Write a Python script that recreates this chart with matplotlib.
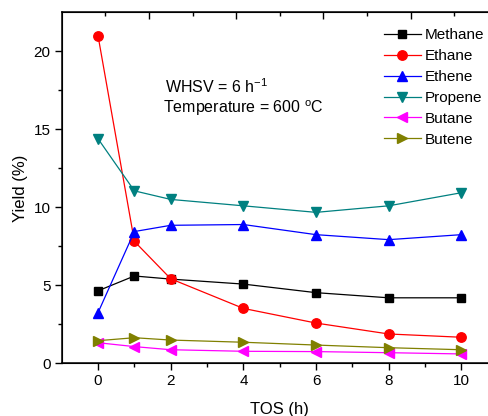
import matplotlib
matplotlib.use("Agg")
import matplotlib.pyplot as plt

plt.rcParams["font.family"] = ["Liberation Sans", "DejaVu Sans"]

# ------------------------------------------------------------
# Data
# ------------------------------------------------------------
tos = [0, 1, 2, 4, 6, 8, 10]

methane = [4.65, 5.6, 5.4, 5.08, 4.53, 4.2, 4.2]
ethane = [21.0, 7.82, 5.42, 3.52, 2.58, 1.88, 1.67]
ethene = [3.25, 8.45, 8.85, 8.9, 8.25, 7.93, 8.25]
propene = [14.4, 11.06, 10.51, 10.1, 9.68, 10.1, 10.94]
butane = [1.32, 1.07, 0.87, 0.77, 0.75, 0.68, 0.6]
butene = [1.45, 1.64, 1.49, 1.35, 1.17, 1.0, 0.87]

series = [
    ("Methane", methane, "black", "s"),
    ("Ethane", ethane, "red", "o"),
    ("Ethene", ethene, "blue", "^"),
    ("Propene", propene, "#008080", "v"),
    ("Butane", butane, "#ff00ff", "<"),
    ("Butene", butene, "#808000", ">"),
]

# ------------------------------------------------------------
# Plot
# ------------------------------------------------------------
fig = plt.figure(figsize=(4.89, 4.16), dpi=100)
ax = fig.add_axes([0.1262, 0.1267, 0.8916, 0.8433])

for name, vals, col, mk in series:
    ms = 6 if mk == "s" else 6.8
    ax.plot(tos, vals, color=col, marker=mk, markersize=ms,
            linewidth=0.9, label=name)

ax.set_xlim(-1, 11)
ax.set_ylim(0, 22.5)

ax.set_xticks([0, 2, 4, 6, 8, 10])
ax.set_xticks([1, 3, 5, 7, 9], minor=True)
ax.set_yticks([0, 5, 10, 15, 20])
ax.set_yticks([2.5, 7.5, 12.5, 17.5], minor=True)

ax.tick_params(axis="both", which="major", direction="out", length=5,
               width=1, labelsize=11, pad=3)
ax.tick_params(axis="both", which="minor", direction="out", length=3, width=1)
ax.tick_params(top=False, right=False)

for s in ["left", "bottom", "top"]:
    ax.spines[s].set_linewidth(1.1)
ax.spines["right"].set_visible(False)

# top axis ticks (inward, offset scale)
ax2 = ax.twiny()
ax2.set_xlim(ax.get_xlim())
ax2.set_xticks([1.4, 3.8, 6.2, 8.6, 11.0])
ax2.set_xticks([0.2, 2.6, 5.0, 7.4, 9.8], minor=True)
ax2.tick_params(axis="x", which="major", direction="in", length=5, width=1,
                labeltop=False)
ax2.tick_params(axis="x", which="minor", direction="in", length=3, width=1)
ax2.spines["right"].set_visible(False)

ax.set_xlabel("TOS (h)", fontsize=12, labelpad=10)
ax.set_ylabel("Yield (%)", fontsize=12, labelpad=4)

ax.text(0.237, 0.79, "WHSV = 6 h$^{\\mathregular{-1}}$", transform=ax.transAxes,
        fontsize=11.5, va="center")
ax.text(0.232, 0.727, "Temperature = 600 $^{\\mathregular{o}}$C",
        transform=ax.transAxes, fontsize=11.5, va="center")

ax.legend(loc="upper left", bbox_to_anchor=(0.739, 0.955), frameon=False,
          fontsize=11, handlelength=2.4, handletextpad=0.3,
          labelspacing=0.45, borderpad=0, borderaxespad=0)

fig.savefig("out.png", dpi=100)
